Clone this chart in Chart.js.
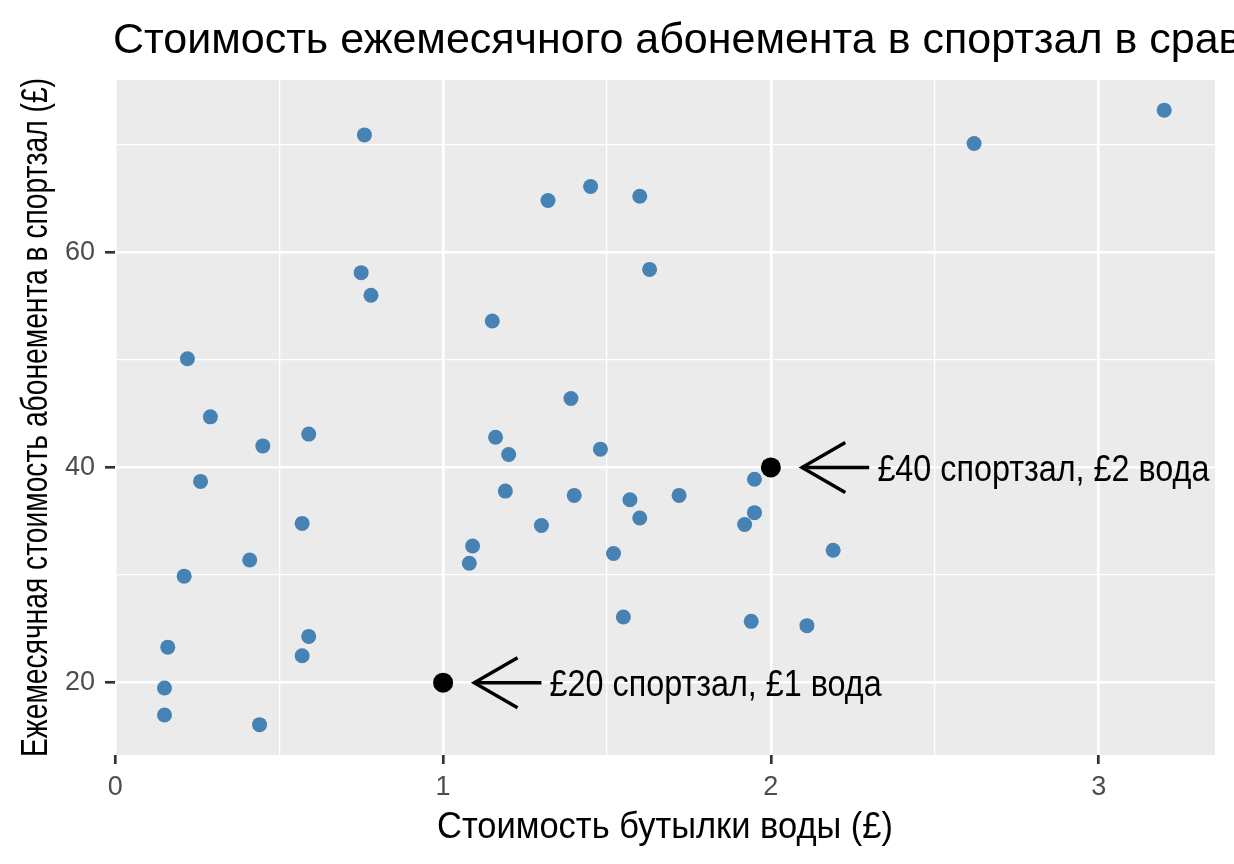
<!DOCTYPE html>
<html lang="ru">
<head>
<meta charset="utf-8">
<title>Абонемент в спортзал и бутылка воды</title>
<script src="https://cdn.jsdelivr.net/npm/chart.js@4.4.1/dist/chart.umd.min.js"></script>
<style>
  html, body { margin: 0; padding: 0; background: #fff; }
  #wrap { width: 1234px; height: 864px; position: relative; }
</style>
</head>
<body>
<div id="wrap"><canvas id="chart"></canvas></div>
<script>
// ===== DATA =====
const chartTitle = "Стоимость ежемесячного абонемента в спортзал в сравнении со стоимостью бутылки воды";
const xTitle = "Стоимость бутылки воды (£)";
const yTitle = "Ежемесячная стоимость абонемента в спортзал (£)";

// bottle of water (£), one value per gym
const waterPrice = [0.76, 0.75, 0.78, 0.22, 0.29, 0.45, 0.59, 0.26, 0.57, 0.41, 0.21, 0.16, 0.59, 0.57, 0.15, 0.15, 0.44,
  1.32, 1.45, 1.60, 1.63, 1.15, 1.39, 1.16, 1.20, 1.48, 1.19, 1.40, 1.57, 1.72, 1.60, 1.30, 1.09, 1.08, 1.52, 1.55,
  1.95, 1.95, 1.92, 2.19, 1.94, 2.11, 2.62, 3.20];
// monthly membership (£), same order
const gymCost = [70.9, 58.1, 56.0, 50.1, 44.7, 42.0, 43.1, 38.7, 34.8, 31.4, 29.9, 23.3, 24.3, 22.5, 19.5, 17.0, 16.1,
  64.8, 66.1, 65.2, 58.4, 53.6, 46.4, 42.8, 41.2, 41.7, 37.8, 37.4, 37.0, 37.4, 35.3, 34.6, 32.7, 31.1, 32.0, 26.1,
  38.9, 35.8, 34.7, 32.3, 25.7, 25.3, 70.1, 73.2];

// the two highlighted reference points + their labels
const markedWater = [1, 2];
const markedGym = [20, 40];
const markedLabels = ["£20 спортзал, £1 вода", "£40 спортзал, £2 вода"];

// axes (ggplot-like: major + minor breaks)
const xLimits = [-0.001, 3.355];
const yLimits = [13.28, 76.0];
const xTicks = [0, 0.5, 1, 1.5, 2, 2.5, 3];
const yTicks = [20, 30, 40, 50, 60, 70];
const xLabelled = [0, 1, 2, 3];
const yLabelled = [20, 40, 60];

const FONT = '"Liberation Sans", Arial, sans-serif';
Chart.defaults.font.family = FONT;

// text squeezed sideways to a given width (the reference uses a narrow face)
function fittedText(ctx, text, x, y, size, width, align, rotate) {
    ctx.save();
    ctx.font = size + 'px ' + FONT;
    const k = width / ctx.measureText(text).width;
    ctx.translate(x, y);
    if (rotate) ctx.rotate(rotate);
    ctx.scale(k, 1);
    ctx.textAlign = align;
    ctx.textBaseline = 'alphabetic';
    ctx.fillText(text, 0, 0);
    ctx.restore();
}

// ===== PANEL, TITLES, ARROWS =====
const ggPanel = {
    id: 'ggPanel',
    beforeDraw(chart) {
        const {ctx, chartArea: a} = chart;
        ctx.save();
        ctx.fillStyle = '#EBEBEB';
        ctx.fillRect(a.left, a.top, a.right - a.left, a.bottom - a.top);
        ctx.fillStyle = '#000';
        // title runs off the right edge, like the original
        ctx.font = '43px ' + FONT;
        ctx.textBaseline = 'alphabetic';
        ctx.fillText(chartTitle, a.left - 2, 53);
        fittedText(ctx, xTitle, (a.left + a.right) / 2, 838, 37, 456, 'center');
        fittedText(ctx, yTitle, 47, (a.top + a.bottom) / 2, 37, 679, 'center', -Math.PI / 2);
        ctx.restore();
    },
    afterDatasetsDraw(chart) {
        const {ctx} = chart;
        const xs = chart.scales.x, ys = chart.scales.y;
        ctx.save();
        ctx.strokeStyle = '#000';
        ctx.fillStyle = '#000';
        ctx.lineWidth = 3.4;
        ctx.lineJoin = 'miter';
        const head = 50, ang = Math.PI / 6;
        markedWater.forEach((w, i) => {
            const py = ys.getPixelForValue(markedGym[i]);
            const tip = xs.getPixelForValue(w + 0.095);
            const tail = xs.getPixelForValue(w + 0.3);
            ctx.beginPath();
            ctx.moveTo(tail, py);
            ctx.lineTo(tip, py);
            ctx.stroke();
            ctx.beginPath();
            ctx.moveTo(tip + head * Math.cos(ang), py - head * Math.sin(ang));
            ctx.lineTo(tip, py);
            ctx.lineTo(tip + head * Math.cos(ang), py + head * Math.sin(ang));
            ctx.stroke();
            fittedText(ctx, markedLabels[i], xs.getPixelForValue(w + 0.325), py + 13.5, 37, 332, 'left');
        });
        ctx.restore();
    }
};

const isIn = (list, v) => list.some(t => Math.abs(t - v) < 1e-9);

new Chart(document.getElementById('chart'), {
    type: 'scatter',
    data: {
        datasets: [{
            data: waterPrice.map((w, i) => ({x: w, y: gymCost[i]})),
            backgroundColor: '#4682B4',
            borderWidth: 0,
            pointRadius: 7.5,
            pointHoverRadius: 7.5
        }, {
            data: markedWater.map((w, i) => ({x: w, y: markedGym[i]})),
            backgroundColor: '#000000',
            borderWidth: 0,
            pointRadius: 10,
            pointHoverRadius: 10
        }]
    },
    options: {
        responsive: true,
        maintainAspectRatio: false,
        animation: false,
        layout: { padding: { top: 80, right: 19, left: 0, bottom: 0 } },
        plugins: {
            legend: { display: false },
            tooltip: { enabled: false }
        },
        scales: {
            x: {
                type: 'linear',
                min: xLimits[0],
                max: xLimits[1],
                afterBuildTicks: s => { s.ticks = xTicks.map(v => ({value: v})); },
                afterFit: s => { s.height = 109; },
                border: { display: false },
                grid: {
                    color: '#FFFFFF',
                    lineWidth: c => isIn(xLabelled, c.tick.value) ? 2.6 : 1.3,
                    tickLength: 9,
                    tickWidth: 2.7,
                    tickColor: c => isIn(xLabelled, c.tick.value) ? '#333333' : 'rgba(0,0,0,0)'
                },
                ticks: {
                    autoSkip: false,
                    maxRotation: 0,
                    padding: 7,
                    color: '#4D4D4D',
                    font: { size: 27 },
                    callback: v => isIn(xLabelled, v) ? String(v) : ''
                }
            },
            y: {
                type: 'linear',
                min: yLimits[0],
                max: yLimits[1],
                afterBuildTicks: s => { s.ticks = yTicks.map(v => ({value: v})); },
                afterFit: s => { s.width = 115; },
                border: { display: false },
                grid: {
                    color: '#FFFFFF',
                    lineWidth: c => isIn(yLabelled, c.tick.value) ? 2.6 : 1.3,
                    tickLength: 10,
                    tickWidth: 2.7,
                    tickColor: c => isIn(yLabelled, c.tick.value) ? '#333333' : 'rgba(0,0,0,0)'
                },
                ticks: {
                    autoSkip: false,
                    padding: 10,
                    color: '#4D4D4D',
                    font: { size: 27 },
                    callback: v => isIn(yLabelled, v) ? String(v) : ''
                }
            }
        }
    },
    plugins: [ggPanel]
});
</script>
</body>
</html>
